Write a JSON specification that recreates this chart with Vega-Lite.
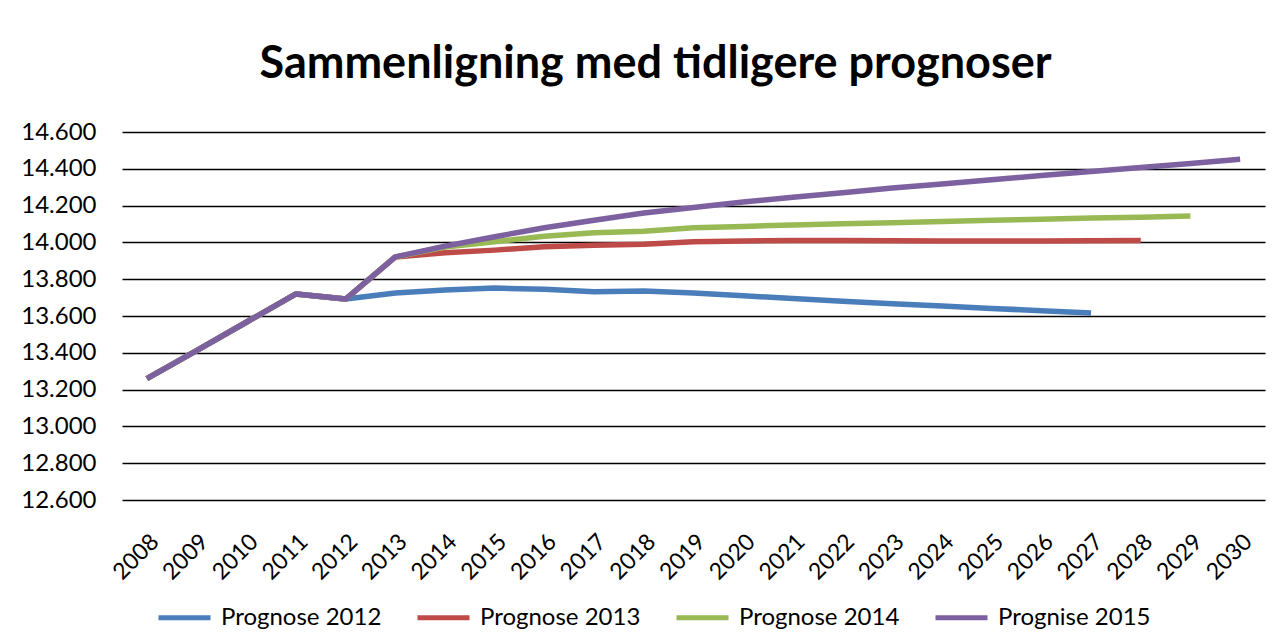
{
  "$schema": "https://vega.github.io/schema/vega-lite/v6.json",
  "autosize": {"type": "none"},
  "width": 1143,
  "height": 368,
  "padding": {"left": 122, "top": 132, "right": 19, "bottom": 139},
  "background": "white",
  "title": {"text": "Sammenligning med tidligere prognoser", "fontSize": 45, "font": "Lato", "fontWeight": "bold", "color": "black", "anchor": "middle", "dx": -38, "offset": 33},
  "data": {"values": [
    {"year": "2008", "series": "Prognose 2012", "value": 13260},
    {"year": "2009", "series": "Prognose 2012", "value": 13412},
    {"year": "2010", "series": "Prognose 2012", "value": 13566},
    {"year": "2011", "series": "Prognose 2012", "value": 13720},
    {"year": "2012", "series": "Prognose 2012", "value": 13692},
    {"year": "2013", "series": "Prognose 2012", "value": 13725},
    {"year": "2014", "series": "Prognose 2012", "value": 13741},
    {"year": "2015", "series": "Prognose 2012", "value": 13752},
    {"year": "2016", "series": "Prognose 2012", "value": 13745},
    {"year": "2017", "series": "Prognose 2012", "value": 13732},
    {"year": "2018", "series": "Prognose 2012", "value": 13736},
    {"year": "2019", "series": "Prognose 2012", "value": 13725},
    {"year": "2020", "series": "Prognose 2012", "value": 13710},
    {"year": "2021", "series": "Prognose 2012", "value": 13695},
    {"year": "2022", "series": "Prognose 2012", "value": 13680},
    {"year": "2023", "series": "Prognose 2012", "value": 13667},
    {"year": "2024", "series": "Prognose 2012", "value": 13654},
    {"year": "2025", "series": "Prognose 2012", "value": 13641},
    {"year": "2026", "series": "Prognose 2012", "value": 13629},
    {"year": "2027", "series": "Prognose 2012", "value": 13616},
    {"year": "2008", "series": "Prognose 2013", "value": 13260},
    {"year": "2009", "series": "Prognose 2013", "value": 13412},
    {"year": "2010", "series": "Prognose 2013", "value": 13566},
    {"year": "2011", "series": "Prognose 2013", "value": 13720},
    {"year": "2012", "series": "Prognose 2013", "value": 13692},
    {"year": "2013", "series": "Prognose 2013", "value": 13921},
    {"year": "2014", "series": "Prognose 2013", "value": 13944},
    {"year": "2015", "series": "Prognose 2013", "value": 13958},
    {"year": "2016", "series": "Prognose 2013", "value": 13977},
    {"year": "2017", "series": "Prognose 2013", "value": 13984},
    {"year": "2018", "series": "Prognose 2013", "value": 13990},
    {"year": "2019", "series": "Prognose 2013", "value": 14003},
    {"year": "2020", "series": "Prognose 2013", "value": 14008},
    {"year": "2021", "series": "Prognose 2013", "value": 14010},
    {"year": "2022", "series": "Prognose 2013", "value": 14010},
    {"year": "2023", "series": "Prognose 2013", "value": 14009},
    {"year": "2024", "series": "Prognose 2013", "value": 14008},
    {"year": "2025", "series": "Prognose 2013", "value": 14008},
    {"year": "2026", "series": "Prognose 2013", "value": 14008},
    {"year": "2027", "series": "Prognose 2013", "value": 14009},
    {"year": "2028", "series": "Prognose 2013", "value": 14011},
    {"year": "2008", "series": "Prognose 2014", "value": 13260},
    {"year": "2009", "series": "Prognose 2014", "value": 13412},
    {"year": "2010", "series": "Prognose 2014", "value": 13566},
    {"year": "2011", "series": "Prognose 2014", "value": 13720},
    {"year": "2012", "series": "Prognose 2014", "value": 13692},
    {"year": "2013", "series": "Prognose 2014", "value": 13921},
    {"year": "2014", "series": "Prognose 2014", "value": 13975},
    {"year": "2015", "series": "Prognose 2014", "value": 14003},
    {"year": "2016", "series": "Prognose 2014", "value": 14034},
    {"year": "2017", "series": "Prognose 2014", "value": 14052},
    {"year": "2018", "series": "Prognose 2014", "value": 14060},
    {"year": "2019", "series": "Prognose 2014", "value": 14079},
    {"year": "2020", "series": "Prognose 2014", "value": 14087},
    {"year": "2021", "series": "Prognose 2014", "value": 14095},
    {"year": "2022", "series": "Prognose 2014", "value": 14102},
    {"year": "2023", "series": "Prognose 2014", "value": 14107},
    {"year": "2024", "series": "Prognose 2014", "value": 14113},
    {"year": "2025", "series": "Prognose 2014", "value": 14120},
    {"year": "2026", "series": "Prognose 2014", "value": 14126},
    {"year": "2027", "series": "Prognose 2014", "value": 14132},
    {"year": "2028", "series": "Prognose 2014", "value": 14137},
    {"year": "2029", "series": "Prognose 2014", "value": 14143},
    {"year": "2008", "series": "Prognise 2015", "value": 13260},
    {"year": "2009", "series": "Prognise 2015", "value": 13412},
    {"year": "2010", "series": "Prognise 2015", "value": 13566},
    {"year": "2011", "series": "Prognise 2015", "value": 13720},
    {"year": "2012", "series": "Prognise 2015", "value": 13692},
    {"year": "2013", "series": "Prognise 2015", "value": 13921},
    {"year": "2014", "series": "Prognise 2015", "value": 13980},
    {"year": "2015", "series": "Prognise 2015", "value": 14031},
    {"year": "2016", "series": "Prognise 2015", "value": 14080},
    {"year": "2017", "series": "Prognise 2015", "value": 14120},
    {"year": "2018", "series": "Prognise 2015", "value": 14160},
    {"year": "2019", "series": "Prognise 2015", "value": 14190},
    {"year": "2020", "series": "Prognise 2015", "value": 14220},
    {"year": "2021", "series": "Prognise 2015", "value": 14245},
    {"year": "2022", "series": "Prognise 2015", "value": 14270},
    {"year": "2023", "series": "Prognise 2015", "value": 14296},
    {"year": "2024", "series": "Prognise 2015", "value": 14318},
    {"year": "2025", "series": "Prognise 2015", "value": 14341},
    {"year": "2026", "series": "Prognise 2015", "value": 14363},
    {"year": "2027", "series": "Prognise 2015", "value": 14385},
    {"year": "2028", "series": "Prognise 2015", "value": 14407},
    {"year": "2029", "series": "Prognise 2015", "value": 14429},
    {"year": "2030", "series": "Prognise 2015", "value": 14452}
  ]},
  "mark": {"type": "line", "strokeWidth": 5.5, "strokeCap": "butt", "strokeJoin": "round"},
  "encoding": {
    "x": {
      "field": "year", "type": "ordinal",
      "scale": {"type": "point", "padding": 0.5},
      "axis": {"labelAngle": -45, "labelFontSize": 23, "labelFont": "Lato", "labelColor": "black", "ticks": false, "domain": false, "title": null, "labelPadding": 30, "grid": false}
    },
    "y": {
      "field": "value", "type": "quantitative",
      "scale": {"domain": [12600, 14600], "zero": false, "nice": false},
      "axis": {"values": [12600, 12800, 13000, 13200, 13400, 13600, 13800, 14000, 14200, 14400, 14600], "labelExpr": "replace(format(datum.value, ','), ',', '.')", "grid": true, "gridColor": "black", "gridWidth": 1.5, "gridOpacity": 1, "domain": false, "ticks": false, "labelPadding": 26, "labelFontSize": 24, "labelFont": "Lato", "labelColor": "black", "title": null}
    },
    "color": {
      "field": "series", "type": "nominal",
      "scale": {"domain": ["Prognose 2012", "Prognose 2013", "Prognose 2014", "Prognise 2015"], "range": ["#4A7EBB", "#BE4B48", "#98B954", "#7D60A0"]},
      "legend": {"orient": "none", "legendX": 34, "legendY": 457, "direction": "horizontal", "columns": 4, "symbolType": "stroke", "symbolSize": 2704, "symbolStrokeWidth": 5, "labelFontSize": 24, "labelFont": "Lato", "labelColor": "black", "labelOffset": 8, "columnPadding": 25, "labelLimit": 400, "title": null}
    }
  },
  "config": {"view": {"stroke": null}}
}
